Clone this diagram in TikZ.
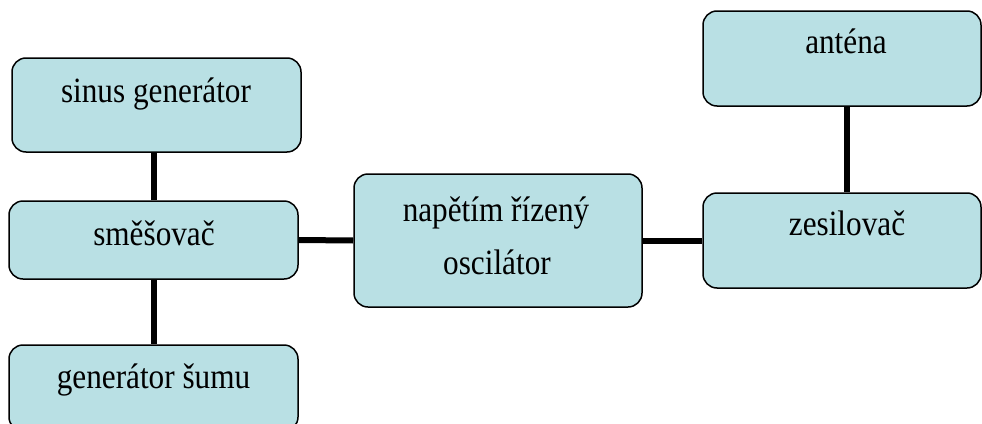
\documentclass[tikz,border=0pt]{standalone}
\usepackage{fontspec}
\setmainfont{Liberation Serif}
\definecolor{boxfill}{RGB}{185,224,228}
% condensed label text
\newcommand\narrowtxt[1]{\scalebox{0.88}[1]{#1}}
\begin{document}
\begin{tikzpicture}[x=1pt,y=-1pt,
  blk/.style={draw=black, line width=1.5pt, fill=boxfill, rounded corners=14pt, inner sep=0pt},
  lbl/.style={font=\fontsize{35.5}{42}\selectfont, anchor=base, inner sep=0pt},
  wire/.style={line width=6pt}]
\useasboundingbox (0,0) rectangle (982,423);
\begin{scope}
\clip (0,0) rectangle (982,423);
% blocks
\node[blk, minimum width=289pt, minimum height=94pt]  (sin)   at (156.5,105) {};
\node[blk, minimum width=289pt, minimum height=78pt]  (mix)   at (153.5,240) {};
\node[blk, minimum width=289pt, minimum height=86pt]  (noise) at (153.5,388) {};
\node[blk, minimum width=288pt, minimum height=133pt] (osc)   at (498,240.5) {};
\node[blk, minimum width=278pt, minimum height=95pt]  (ant)   at (842,58.5) {};
\node[blk, minimum width=278pt, minimum height=95pt]  (amp)   at (842,240.5) {};
% labels
\node[lbl] (tsin)   at (156,102)   {\narrowtxt{sinus generátor}};
\node[lbl] (tmix)   at (154,245)   {\narrowtxt{směšovač}};
\node[lbl] (tnoise) at (153.5,388) {\narrowtxt{generátor šumu}};
\node[lbl] (tosc1)  at (496,221)   {\narrowtxt{napětím řízený}};
\node[lbl] (tosc2)  at (497,274)   {\narrowtxt{oscilátor}};
\node[lbl] (tant)   at (846,53)    {\narrowtxt{anténa}};
\node[lbl] (tamp)   at (847,235)   {\narrowtxt{zesilovač}};
% connections
\draw[wire] (mix.north) -- (mix.north |- sin.south);
\draw[wire] (mix.south) -- (noise.north);
\draw[wire] (mix.east) -- (osc.west);
\draw[wire] (osc.east) -- (amp.west);
\draw[wire] ([xshift=5pt]ant.south) -- ([xshift=5pt]amp.north);
\end{scope}
\end{tikzpicture}
\end{document}
